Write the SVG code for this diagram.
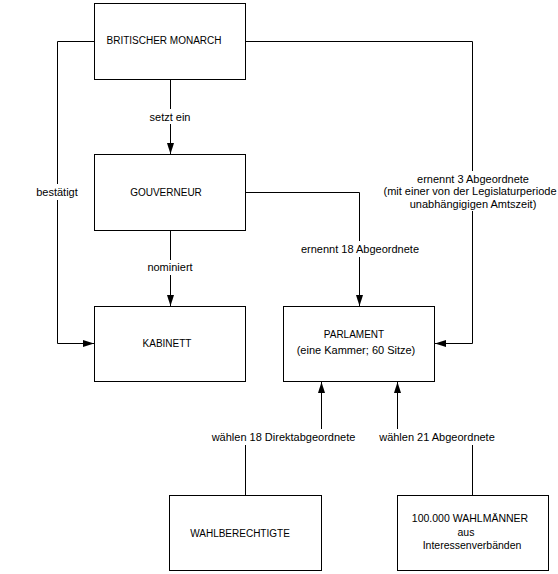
<svg xmlns="http://www.w3.org/2000/svg" width="558" height="574" viewBox="0 0 558 574">
<style>
.box{fill:#fff;stroke:#000;stroke-width:1}
.ln{fill:none;stroke:#000;stroke-width:1}
.t{font-family:"Liberation Sans",Arial,sans-serif;font-size:11px;fill:#000;text-anchor:middle}
.c{font-size:10px}
.m{font-size:10.5px}
.bg{fill:#fff}
</style>
<defs>
<marker id="arr" markerUnits="userSpaceOnUse" markerWidth="12" markerHeight="10" refX="11" refY="4" orient="auto">
<path d="M0,0.5 L11,4 L0,7.5 z" fill="#000"/>
</marker>
</defs>
<rect width="558" height="574" fill="#fff"/>
<g id="connectors">
<path class="ln" d="M170.5 79.5 V154" marker-end="url(#arr)"/>
<path class="ln" d="M94.5 41.5 H57.5 V343.5 H94" marker-end="url(#arr)"/>
<path class="ln" d="M245.5 41.5 H472.5 V343.5 H435" marker-end="url(#arr)"/>
<path class="ln" d="M245.5 192.5 H359.5 V306" marker-end="url(#arr)"/>
<path class="ln" d="M170.5 230.5 V306" marker-end="url(#arr)"/>
<path class="ln" d="M245.5 495.5 V437.5 H321.5 V382" marker-end="url(#arr)"/>
<path class="ln" d="M472.5 495.5 V437.5 H397.5 V382" marker-end="url(#arr)"/>
<rect class="bg" x="147" y="109" width="46" height="15"/>
<text class="t" x="170" y="121">setzt ein</text>
<rect class="bg" x="33" y="184" width="48" height="16"/>
<text class="t" x="57" y="195.5">bestätigt</text>
<rect class="bg" x="145" y="260" width="50" height="15"/>
<text class="t" x="170" y="271">nominiert</text>
<rect class="bg" x="299" y="241" width="122" height="16"/>
<text class="t" x="360" y="253">ernennt 18 Abgeordnete</text>
<rect class="bg" x="383" y="171" width="175" height="40"/>
<text class="t" x="473" y="183">ernennt 3 Abgeordnete</text>
<text class="t" x="470" y="194.5">(mit einer von der Legislaturperiode</text>
<text class="t" x="473" y="207.5">unabhängigigen Amtszeit)</text>
<rect class="bg" x="210" y="429" width="147" height="16"/>
<text class="t" x="283.5" y="441">wählen 18 Direktabgeordnete</text>
<rect class="bg" x="376" y="429" width="122" height="16"/>
<text class="t" x="437" y="441">wählen 21 Abgeordnete</text>
</g>
<g id="monarch">
<rect class="box" x="94.5" y="3.5" width="151" height="76"/>
<text class="t c" x="164" y="44">BRITISCHER MONARCH</text>
</g>
<g id="gouverneur">
<rect class="box" x="94.5" y="154.5" width="151" height="76"/>
<text class="t c" x="166" y="195.5">GOUVERNEUR</text>
</g>
<g id="kabinett">
<rect class="box" x="94.5" y="306.5" width="151" height="75"/>
<text class="t c" x="167" y="346.5">KABINETT</text>
</g>
<g id="parlament">
<rect class="box" x="283.5" y="306.5" width="151" height="75"/>
<text class="t c" x="354" y="338">PARLAMENT</text>
<text class="t" x="356" y="354">(eine Kammer; 60 Sitze)</text>
</g>
<g id="wahlberechtigte">
<rect class="box" x="169.5" y="495.5" width="152" height="75"/>
<text class="t c" x="240" y="536.5">WAHLBERECHTIGTE</text>
</g>
<g id="wahlmaenner">
<rect class="box" x="397.5" y="495.5" width="151" height="75"/>
<text class="t m" x="470" y="522">100.000 WAHLMÄNNER</text>
<text class="t m" x="466" y="536">aus</text>
<text class="t m" x="472" y="549">Interessenverbänden</text>
</g>
</svg>
